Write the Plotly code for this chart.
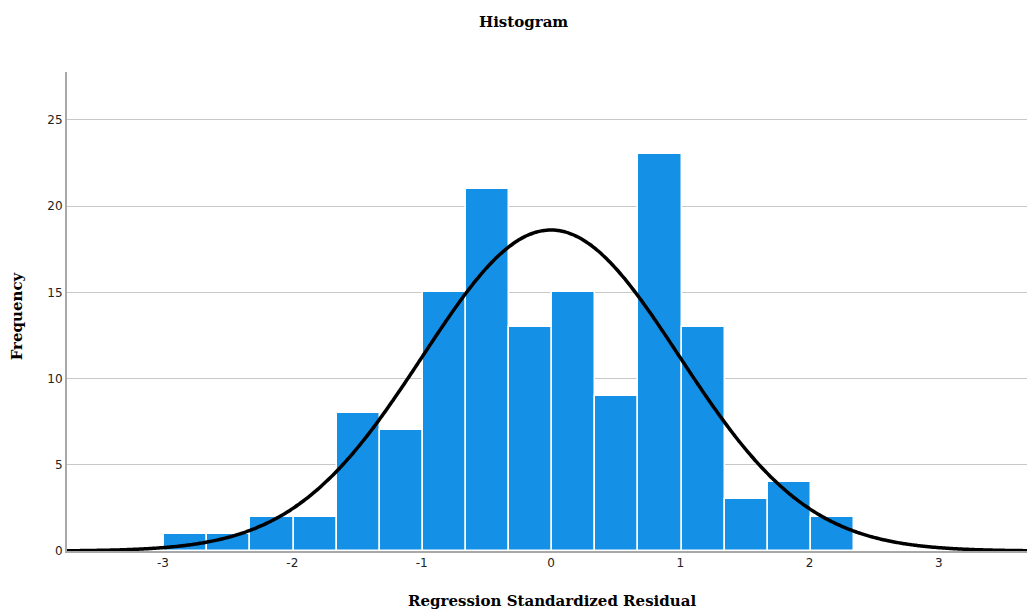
import numpy as np
import plotly.graph_objects as go

# Histogram of regression standardized residuals
bin_start = -2.99
bin_width = 1 / 3
counts = [1, 1, 2, 2, 8, 7, 15, 21, 13, 15, 9, 23, 13, 3, 4, 2]
x_ticks = [-3, -2, -1, 0, 1, 2, 3]
x_tick_labels = ["-3", "-2", "-1", "0", "1", "2", "3"]
y_ticks = [0, 5, 10, 15, 20, 25]

# Normal curve parameters
mean = 0.0
std_dev = 0.993
n_obs = sum(counts)

centers = [bin_start + bin_width * (i + 0.5) for i in range(len(counts))]

xs = np.linspace(-3.75, 3.7, 400)
density = n_obs * bin_width / (std_dev * np.sqrt(2 * np.pi)) * np.exp(-0.5 * ((xs - mean) / std_dev) ** 2)

fig = go.Figure()
fig.add_trace(go.Bar(
    x=centers, y=counts, width=bin_width,
    marker=dict(color="#1490e6", line=dict(color="white", width=1.5)),
    hoverinfo="x+y",
))
fig.add_trace(go.Scatter(
    x=xs, y=density, mode="lines",
    line=dict(color="black", width=3.5, shape="spline"),
    hoverinfo="skip",
))

serif = "DejaVu Serif, Times New Roman, serif"
sans = "DejaVu Sans, Verdana, sans-serif"

fig.update_layout(
    width=1027, height=610,
    margin=dict(l=67, r=0, t=72, b=59),
    plot_bgcolor="white", paper_bgcolor="white",
    showlegend=False,
    bargap=0,
    xaxis=dict(
        range=[-3.742, 3.681], tickvals=x_ticks, ticktext=x_tick_labels,
        showgrid=False, zeroline=False,
        showline=True, linecolor="#a8a8a8", linewidth=2,
        ticks="", tickfont=dict(family=sans, size=12, color="#222"),
    ),
    yaxis=dict(
        range=[0, 27.78], tickvals=y_ticks,
        showgrid=True, gridcolor="#c8c8c8", gridwidth=1,
        zeroline=False,
        showline=True, linecolor="#a8a8a8", linewidth=2,
        ticks="", tickfont=dict(family=sans, size=12, color="#222"),
    ),
    annotations=[
        dict(text="<b>Histogram</b>", xref="paper", yref="paper",
             x=0.475, y=1, yshift=50, showarrow=False, yanchor="middle",
             font=dict(family=serif, size=15, color="black")),
        dict(text="<b>Regression Standardized Residual</b>", xref="paper", yref="paper",
             x=0.505, y=0, yshift=-50, showarrow=False, yanchor="middle",
             font=dict(family=serif, size=15, color="black")),
        dict(text="<b>Frequency</b>", xref="paper", yref="paper",
             x=0, xshift=-50, y=0.49, showarrow=False, textangle=-90, xanchor="center",
             font=dict(family=serif, size=15, color="black")),
    ],
)

fig.write_html("out.html")
